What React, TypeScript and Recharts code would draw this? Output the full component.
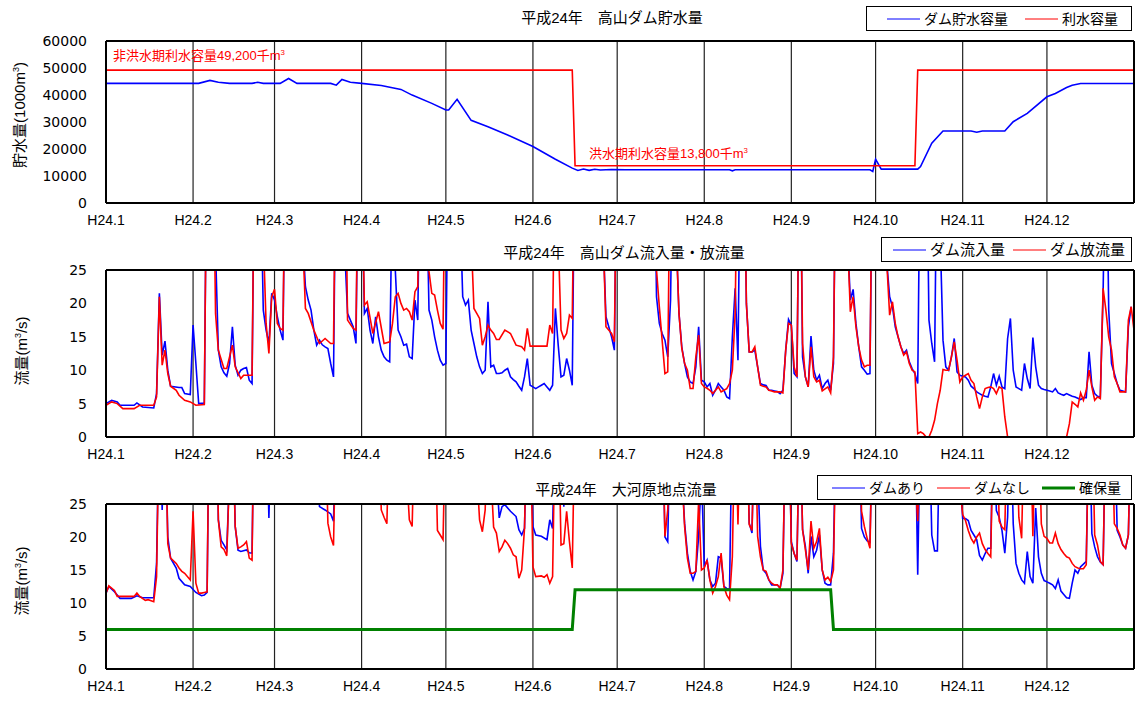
import React from "react"
import { CartesianGrid, Legend, Line, LineChart, ReferenceLine, XAxis, YAxis } from "recharts"

const FONT = "'Liberation Sans', 'Noto Sans CJK JP', sans-serif"

// day-of-year (2012) where each month starts, and the axis labels
const MONTH_STARTS = [0, 31, 60, 91, 121, 152, 182, 213, 244, 274, 305, 335]
const MONTH_LABELS = ["H24.1", "H24.2", "H24.3", "H24.4", "H24.5", "H24.6", "H24.7", "H24.8", "H24.9", "H24.10", "H24.11", "H24.12"]
const STORAGE_TICKS = [0, 10000, 20000, 30000, 40000, 50000, 60000]
const FLOW_TICKS = [0, 5, 10, 15, 20, 25]

// [day, value]; values above 25 run off the top of the panel
const STORAGE: [number, number][] = [
  [0, 44300], [33, 44300], [37, 45400], [40, 44700], [44, 44300], [52, 44300], [54, 44700], [56, 44300],
  [62, 44300], [65, 46100], [68, 44300], [80, 44300], [82, 43650], [84, 45750], [87, 44700], [91, 44300],
  [98, 43500], [105, 42070], [109, 39960], [116, 36900], [121, 34430], [122, 34430], [125, 38380],
  [130, 30620], [136, 28270], [143, 25200], [152, 20900], [160, 16230], [166, 12920], [168, 12030],
  [170, 12600], [172, 12100], [174, 12500], [176, 12200], [180, 12400], [185, 12300], [222, 12300],
  [223, 11900], [224, 12300], [272, 12300], [273, 11660], [274, 16230], [276, 12550], [289, 12550],
  [290, 13500], [294, 22140], [298, 26680], [308, 26680], [310, 26200], [312, 26680], [320, 26680],
  [323, 30110], [328, 33200], [335, 39330], [338, 40590], [342, 42800], [344, 43650], [347, 44280], [366, 44280],
]
const CAPACITY: [number, number][] = [[0, 49200], [166, 49200], [167, 13800], [288, 13800], [289, 49200], [366, 49200]]

const INFLOW: [number, number][] = [
  [0, 5.0], [2, 5.5], [4, 5.25], [5, 4.75], [10, 4.75], [11, 5.1], [13, 4.5], [17, 4.35], [18, 6.5], [19, 21.5],
  [20, 12.25], [21, 14.35], [22, 10], [23, 7.6], [26, 7.4], [27, 7.4], [28, 6.5], [30, 6.35], [31, 16.75], [32, 11],
  [33, 5], [35, 5.1], [36, 50], [38, 50], [39, 28], [40, 13], [41, 10.5], [42, 9.6], [43, 9.1], [44, 11], [45, 16.5],
  [46, 10.75], [47, 9.25], [48, 10], [49, 10.25], [50, 10.4], [51, 8.5], [52, 8], [53, 50], [54, 50], [55, 40],
  [56, 19], [57, 16], [58, 14], [59, 21.5], [60, 20.5], [61, 18], [62, 16], [63, 14.5], [64, 50], [69, 50], [70, 30],
  [71, 22.5], [72, 20.5], [73, 19], [74, 16], [75, 13.75], [76, 14.5], [77, 13.8], [78, 13.5], [79, 13.25], [80, 11],
  [81, 9], [82, 50], [84, 50], [85, 28], [86, 18.5], [87, 17.5], [88, 16.5], [89, 14], [90, 50], [91, 40], [92, 18.5],
  [93, 19.25], [94, 16], [95, 14], [96, 18], [97, 15], [98, 13], [99, 12], [100, 11.5], [101, 11.25], [102, 40],
  [103, 25], [104, 16], [105, 15], [106, 13.75], [107, 13.9], [108, 12], [109, 11.75], [110, 20.5], [111, 17.5],
  [112, 50], [114, 40], [115, 19], [116, 17.5], [117, 15], [118, 13], [119, 11.5], [120, 10.75], [121, 11], [122, 50],
  [126, 35], [127, 21], [128, 19.75], [129, 20.5], [130, 16], [131, 14], [132, 12], [133, 10.5], [134, 9.5], [135, 10],
  [136, 20.25], [137, 10.5], [138, 10.75], [139, 9.5], [140, 9.5], [141, 9.6], [142, 10], [143, 10.25], [144, 9],
  [145, 8.6], [146, 8.25], [147, 7.6], [148, 7], [149, 9], [150, 11.75], [151, 7.75], [152, 7.5], [153, 7.25],
  [154, 7.5], [155, 7.75], [156, 8], [157, 7.5], [158, 7], [159, 7.75], [160, 19.25], [161, 13.75], [162, 9],
  [163, 9.25], [164, 11.75], [165, 10], [166, 7.75], [167, 50], [176, 50], [177, 30], [178, 18], [179, 16.5],
  [180, 15], [181, 13], [182, 50], [195, 50], [196, 21], [197, 17], [198, 15.5], [199, 14.5], [200, 12], [201, 20.5],
  [202, 50], [203, 30], [204, 18.5], [205, 13.5], [206, 11], [207, 9], [208, 8.25], [209, 8], [210, 10.5], [211, 16.5],
  [212, 8.5], [213, 8.25], [214, 7.5], [215, 8], [216, 6.25], [217, 7], [218, 8], [219, 7.5], [220, 7], [221, 6],
  [222, 5.75], [223, 15], [224, 22.25], [225, 11.5], [226, 50], [227, 50], [228, 20], [229, 12.75], [230, 12.75],
  [231, 13], [232, 10.5], [233, 8], [234, 7.8], [235, 7.7], [236, 7], [237, 7], [238, 6.9], [239, 6.8], [240, 6.5],
  [241, 7], [242, 13], [243, 17.6], [244, 16.75], [245, 9.5], [246, 9], [247, 50], [248, 12], [249, 9], [250, 7.5],
  [251, 15.1], [252, 10], [253, 8.5], [254, 9.25], [255, 7.25], [256, 8], [257, 8.5], [258, 7], [259, 11], [260, 50],
  [263, 50], [264, 30], [265, 20.5], [266, 22.1], [267, 17], [268, 13.5], [269, 10.5], [270, 10], [271, 9.4],
  [272, 9.5], [273, 50], [277, 50], [278, 26], [279, 21], [280, 19.5], [281, 16.5], [282, 15], [283, 13.5],
  [284, 12.5], [285, 13], [286, 11.25], [287, 10.25], [288, 9.5], [289, 8], [290, 50], [292, 50], [293, 17.5],
  [294, 14], [295, 11.25], [296, 50], [297, 30], [298, 14.5], [299, 10.5], [300, 10], [301, 12], [302, 14.75],
  [303, 9.75], [304, 9.25], [305, 9.1], [306, 9], [307, 8.5], [308, 7.6], [309, 7.25], [310, 6.75], [311, 6.5],
  [312, 6.25], [313, 6.1], [314, 6], [315, 7.5], [316, 9.5], [317, 7.75], [318, 9.1], [319, 7.5], [320, 7.25],
  [321, 14.75], [322, 17.75], [323, 10], [324, 7.5], [325, 7.25], [326, 7], [327, 11], [328, 8.75], [329, 7.25],
  [330, 14.9], [331, 10.5], [332, 7.75], [333, 7.25], [334, 7.1], [335, 7], [336, 6.9], [337, 6.75], [338, 7.25],
  [339, 6.6], [340, 6.4], [341, 6.25], [342, 6.5], [343, 6.3], [344, 6.1], [345, 6], [346, 5.8], [347, 5.6],
  [348, 5.9], [349, 5.9], [350, 12.75], [351, 7.75], [352, 6.5], [353, 6.1], [354, 6], [355, 21.5], [356, 50],
  [357, 19], [358, 11], [359, 9.5], [360, 8], [361, 7], [362, 6.9], [363, 6.75], [364, 16.5], [365, 19.5],
]

const OUTFLOW: [number, number][] = [
  [0, 4.75], [2, 5.25], [4, 5], [6, 4.25], [10, 4.25], [12, 4.75], [17, 4.75], [18, 6], [19, 21], [20, 10.75],
  [21, 13], [22, 9.5], [23, 7.6], [25, 7], [26, 6.25], [28, 5.5], [30, 5.25], [32, 4.75], [35, 4.85], [36, 50],
  [38, 50], [39, 18.5], [40, 13], [42, 10.25], [43, 10.25], [45, 13.75], [46, 10.5], [48, 8.75], [49, 9.25],
  [52, 9.25], [53, 50], [55, 50], [56, 30], [57, 17], [58, 12.5], [59, 21], [60, 22.1], [61, 17], [62, 16.25],
  [63, 16], [64, 50], [69, 50], [70, 30], [71, 19.25], [72, 18.5], [74, 16], [76, 14], [78, 14.75], [80, 14],
  [81, 14], [82, 50], [85, 50], [86, 17.5], [88, 16.25], [89, 16], [90, 50], [91, 40], [92, 19.75], [93, 20.25],
  [95, 15.5], [97, 18.75], [99, 14], [101, 14.25], [102, 17], [103, 21], [104, 21.5], [105, 20], [106, 19],
  [107, 19.25], [108, 18.75], [109, 17.5], [110, 21.75], [111, 22.5], [112, 50], [114, 30], [115, 24.75],
  [116, 21.5], [117, 21.25], [118, 19], [119, 17], [120, 16.15], [121, 50], [129, 50], [130, 30], [131, 19.25],
  [132, 18.5], [133, 17.75], [134, 13.75], [135, 15], [136, 16.75], [137, 16], [138, 15.5], [139, 14.6], [140, 14.6],
  [142, 16], [144, 15.5], [146, 13.75], [148, 13.5], [149, 13], [150, 16.25], [151, 13.6], [157, 13.6], [158, 16.75],
  [159, 15.5], [160, 50], [161, 30], [162, 16], [163, 14.75], [164, 15.5], [165, 18.25], [166, 17.75], [167, 50],
  [176, 50], [177, 30], [178, 16.5], [180, 15.5], [181, 14.25], [182, 50], [195, 50], [196, 25], [197, 19.5],
  [198, 14.5], [199, 9.5], [200, 9.75], [201, 50], [202, 50], [203, 30], [204, 18.5], [205, 13.25], [206, 11],
  [207, 10], [208, 7.25], [209, 7.25], [210, 12], [211, 15.25], [212, 8], [213, 7.5], [214, 7.3], [215, 7],
  [216, 6.5], [217, 7], [218, 7.5], [219, 6.75], [220, 7], [221, 7.25], [222, 8], [223, 10], [224, 18.5], [225, 50],
  [227, 50], [228, 20], [229, 12.75], [230, 12.75], [231, 13.5], [232, 10.5], [233, 7.75], [234, 7.6], [235, 7.5],
  [236, 7], [237, 6.9], [238, 6.75], [240, 6.75], [241, 6.6], [242, 13], [243, 17], [244, 16.75], [245, 10.5],
  [246, 9], [247, 50], [248, 14], [249, 9], [250, 7.5], [251, 13.5], [252, 9], [253, 8.25], [254, 8.5], [255, 6.9],
  [256, 7.2], [257, 7.5], [258, 6.6], [259, 12], [260, 50], [263, 50], [264, 30], [265, 18.75], [266, 21],
  [267, 16.5], [268, 13.5], [269, 11.5], [270, 10.5], [271, 10.75], [272, 10.75], [273, 50], [277, 50], [278, 26],
  [279, 18.25], [280, 20.25], [281, 17], [282, 15], [283, 13.5], [284, 12.25], [285, 12.75], [286, 11], [287, 10],
  [288, 9.75], [289, 0.5], [290, 0.75], [291, 0.5], [292, 0], [293, 0], [294, 1], [295, 2.5], [296, 5], [297, 7],
  [298, 10.1], [299, 10], [300, 10], [301, 12], [302, 14.25], [303, 11.5], [304, 8.25], [305, 9], [306, 9.25],
  [307, 9.5], [308, 8.5], [309, 8], [310, 6], [311, 4.25], [312, 6], [313, 7.25], [314, 7.4], [315, 7.5],
  [316, 7.25], [317, 6.5], [318, 7.5], [319, 7.25], [320, 3], [321, 0], [342, 0], [343, 2], [344, 5.25], [345, 4.9],
  [346, 4.5], [347, 6.6], [348, 5.5], [349, 7], [350, 10], [351, 7.5], [352, 5.5], [353, 6], [354, 5.75],
  [355, 22.25], [356, 19], [357, 15], [358, 13], [359, 9], [360, 8], [361, 6.75], [363, 6.75], [364, 17.5],
  [365, 19.5], [366, 16],
]

const WITH_DAM: [number, number][] = [
  [0, 11.5], [1, 12.5], [3, 11.7], [5, 10.7], [9, 10.7], [11, 11.1], [13, 10.8], [17, 10.8], [18, 16], [19, 40],
  [20, 24.1], [21, 40], [22, 20], [23, 16.8], [25, 15.3], [26, 13.75], [28, 12.75], [30, 12.5], [32, 11.6],
  [34, 11.1], [35, 11.2], [36, 11.6], [37, 50], [39, 50], [40, 22.6], [41, 19.5], [42, 18.8], [43, 18.05], [44, 30],
  [45, 40], [46, 21.6], [47, 18], [48, 17.8], [50, 18.05], [51, 17.6], [52, 17.55], [53, 50], [57, 40], [58, 22.9],
  [59, 40], [75, 40], [76, 24.6], [78, 24.1], [80, 23.5], [81, 22.4], [82, 40], [98, 40], [99, 24.8], [100, 40],
  [119, 40], [120, 25], [121, 40], [139, 30], [140, 22.9], [141, 24.6], [142, 24.9], [144, 23.9], [146, 23.1],
  [147, 21.1], [148, 20.3], [149, 21.3], [150, 40], [151, 40], [152, 21.6], [153, 20.3], [155, 20.1], [157, 19.6],
  [158, 22.6], [159, 21.3], [160, 40], [162, 40], [163, 24.6], [164, 40], [198, 40], [199, 20], [200, 19.3],
  [201, 40], [205, 30], [206, 22.1], [207, 17.55], [208, 14.8], [209, 13.5], [210, 14.8], [211, 20.1], [212, 30],
  [213, 15.5], [214, 16.5], [215, 13.5], [216, 12.5], [217, 13], [218, 17], [219, 16.8], [220, 12.5], [221, 12.2],
  [222, 12], [223, 40], [228, 40], [229, 22.1], [230, 20.6], [231, 40], [232, 30], [233, 18.6], [234, 15],
  [235, 14.5], [236, 13.5], [237, 12.75], [239, 12.75], [240, 12.25], [241, 14.5], [242, 40], [243, 40],
  [244, 19.3], [245, 17.5], [246, 16.3], [247, 40], [248, 21.1], [249, 18.6], [250, 14.5], [251, 20.1], [252, 17],
  [253, 18], [254, 20.3], [255, 15], [256, 13], [257, 12.75], [258, 12.75], [259, 17.55], [260, 40], [268, 40],
  [269, 21.3], [270, 20], [271, 19.4], [272, 19.2], [273, 40], [288, 40], [289, 14.3], [290, 40], [293, 40],
  [294, 20.3], [295, 17.9], [296, 17.9], [297, 40], [300, 24.9], [301, 40], [304, 30], [305, 22.8], [306, 22.8],
  [307, 22.5], [308, 21], [309, 20.3], [310, 19.6], [311, 17.2], [312, 16.5], [313, 17.5], [314, 18.3], [315, 18.3],
  [316, 40], [317, 24], [318, 23], [319, 21], [320, 17.55], [321, 23], [322, 40], [323, 22], [324, 16], [325, 14.5],
  [326, 13.5], [327, 13], [328, 17.8], [329, 14], [330, 13], [331, 24.4], [332, 17], [333, 14.5], [334, 13.4],
  [335, 13.2], [336, 13], [337, 12.75], [338, 12.2], [339, 13.5], [340, 11.8], [341, 11.3], [342, 10.8],
  [343, 10.7], [344, 13], [345, 15], [346, 14.5], [347, 15.5], [348, 15.9], [349, 16.3], [350, 40], [351, 20.5],
  [352, 18.5], [353, 17], [354, 16.2], [355, 15.8], [356, 40], [359, 40], [360, 21], [361, 20], [362, 18.8],
  [363, 18.3], [364, 20.3], [365, 40],
]

const WITHOUT_DAM: [number, number][] = [
  [0, 11.5], [1, 12.6], [3, 11.9], [4, 11], [10, 11], [11, 11.5], [12, 11], [14, 10.4], [15, 10.5], [17, 10.2],
  [18, 14], [19, 40], [21, 40], [22, 19], [23, 16.8], [25, 16], [26, 15.3], [27, 14.8], [28, 14.5], [30, 13.5],
  [31, 23.9], [32, 13], [33, 11.5], [34, 11.5], [35, 11.6], [36, 11.7], [37, 50], [39, 50], [40, 22.6], [41, 18.5],
  [42, 18.1], [43, 17.15], [44, 30], [45, 40], [46, 21.6], [47, 18.3], [48, 18.5], [49, 18.8], [50, 19.3],
  [51, 16.8], [52, 16.5], [53, 50], [78, 40], [79, 22.1], [80, 20], [81, 18.7], [82, 40], [97, 40], [98, 24.1],
  [99, 23], [100, 22], [101, 40], [107, 30], [108, 22.6], [109, 21.6], [110, 40], [117, 40], [118, 21], [119, 20.3],
  [120, 19.6], [121, 40], [132, 30], [133, 22.6], [134, 20.8], [135, 24.1], [136, 40], [137, 30], [138, 21.5],
  [139, 20.6], [140, 17.8], [141, 18.5], [142, 19.5], [143, 19], [144, 18.3], [145, 17.3], [146, 17], [147, 13.75],
  [148, 15], [149, 21.3], [150, 40], [151, 40], [152, 15.5], [153, 14], [155, 14.1], [156, 13.9], [157, 14.3],
  [158, 13], [159, 14], [160, 40], [161, 40], [162, 18.8], [163, 19], [164, 23.9], [165, 19.3], [166, 15.3],
  [167, 40], [198, 40], [199, 20.1], [200, 24.1], [201, 40], [205, 30], [206, 21.6], [207, 16.8], [208, 14.5],
  [209, 14.5], [210, 14.8], [211, 25.5], [212, 15], [213, 15.3], [214, 16.5], [215, 13.5], [216, 11.5], [217, 12.5],
  [218, 14], [219, 17.55], [220, 12.5], [221, 11.2], [222, 10.5], [223, 17], [224, 40], [225, 21.9], [226, 40],
  [228, 40], [229, 21.9], [230, 21], [231, 40], [232, 20.1], [233, 17], [234, 15], [235, 14.8], [236, 13.5],
  [237, 13], [238, 12.75], [239, 12.75], [240, 12.25], [241, 15], [242, 40], [243, 40], [244, 19], [245, 17.5],
  [246, 16.5], [247, 40], [248, 21.1], [249, 18.1], [250, 15], [251, 22.4], [252, 18.3], [253, 19.3], [254, 21.3],
  [255, 15], [256, 13.5], [257, 13.9], [258, 13.25], [259, 15], [260, 40], [268, 40], [269, 23.9], [270, 21.6],
  [271, 19.8], [272, 18.3], [273, 40], [288, 30], [289, 22.4], [290, 40], [304, 28], [305, 23.4], [306, 22.5],
  [307, 21], [308, 19.8], [309, 19.1], [310, 20], [311, 20.6], [312, 19], [313, 18.1], [314, 17.5], [315, 17],
  [316, 40], [317, 40], [318, 22.4], [319, 21.5], [320, 21.1], [321, 40], [324, 40], [325, 23], [326, 19.8],
  [327, 40], [329, 40], [330, 20.1], [331, 40], [332, 40], [333, 22], [334, 20.1], [335, 19.8], [336, 19.1],
  [337, 19.1], [338, 20.6], [339, 19], [340, 18.1], [341, 17.5], [342, 17], [343, 16.8], [344, 16], [345, 15.5],
  [346, 15.3], [347, 15.2], [348, 15.2], [349, 15.8], [350, 40], [351, 40], [352, 20.3], [353, 18.8], [354, 16.3],
  [355, 15.8], [356, 40], [358, 40], [359, 22], [360, 21.3], [361, 20.3], [362, 18.8], [363, 18.3], [364, 20.3], [365, 40],
]

const SECURED: [number, number][] = [[0, 6], [166, 6], [167, 12], [258, 12], [259, 6], [366, 6]]

const rows = (pts: [number, number][]) => pts.map(([d, v]) => ({ d, v }))

const tickLabel = (v: number) => MONTH_LABELS[MONTH_STARTS.indexOf(v)] ?? ""

function BoxLegend(props: any) {
  const { payload = [], order = [], fontSize = 14, gap = 12, padLeft = 12 } = props
  // keep the series order instead of the library's alphabetical sort
  const items = [...payload].sort((a: any, b: any) => order.indexOf(a.value) - order.indexOf(b.value))
  return (
    <div
      style={{
        height: 25, boxSizing: "border-box", border: "1px solid #000", background: "#fff",
        display: "flex", alignItems: "center", paddingLeft: padLeft, fontFamily: FONT, fontSize, color: "#000",
      }}
    >
      {items.map((p: any, i: number) => (
        <div key={i} style={{ display: "flex", alignItems: "center", marginLeft: i ? gap : 0, whiteSpace: "nowrap" }}>
          <svg width={33} height={6}>
            <line x1={0} y1={3} x2={33} y2={3} stroke={p.color} strokeWidth={p.payload?.strokeWidth === 3 ? 3 : 1} />
          </svg>
          <span style={{ marginLeft: 4, lineHeight: 1 }}>{p.value}</span>
        </div>
      ))}
    </div>
  )
}

function Panel(props: {
  top: number; height: number; marginTop: number; yMax: number; yTicks: number[]
  legend: { left: number; top: number; width: number; fontSize: number; gap: number; padLeft: number; order: string[] }
  children: React.ReactNode
}) {
  const { top, height, marginTop, yMax, yTicks, legend, children } = props
  return (
    <div style={{ position: "absolute", left: 0, top }}>
      <LineChart width={1137} height={height} margin={{ top: marginTop, right: 3, left: 0, bottom: 0 }}>
        <CartesianGrid horizontal={false} stroke="#222" strokeWidth={1.2} />
        <XAxis
          dataKey="d" type="number" domain={[0, 366]} ticks={MONTH_STARTS} interval={0} allowDataOverflow
          tickFormatter={tickLabel} tickLine={false} axisLine={{ stroke: "#000", strokeWidth: 2 }} height={28}
          tickMargin={6} tick={{ fontSize: 14, fill: "#000", fontFamily: "'Liberation Sans'" }}
        />
        <YAxis
          type="number" domain={[0, yMax]} ticks={yTicks} interval={0} allowDataOverflow width={106}
          tickLine={false} axisLine={{ stroke: "#000", strokeWidth: 2 }} tickMargin={13}
          tick={{ fontSize: 14, fill: "#000", fontFamily: "'DejaVu Sans'" }}
        />
        {children}
        <ReferenceLine y={yMax} stroke="#000" strokeWidth={2} />
        <ReferenceLine x={366} stroke="#000" strokeWidth={2} />
        <Legend
          layout="horizontal" verticalAlign="middle" align="center"
          wrapperStyle={{ left: legend.left, top: legend.top, width: legend.width, height: 25 }}
          content={(p: any) => (
            <BoxLegend {...p} order={legend.order} fontSize={legend.fontSize} gap={legend.gap} padLeft={legend.padLeft} />
          )}
        />
      </LineChart>
    </div>
  )
}

const lineProps = { type: "linear" as const, dataKey: "v", dot: false, isAnimationActive: false, activeDot: false }

const titleStyle = (cx: number, cy: number): React.CSSProperties => ({
  position: "absolute", left: cx, top: cy - 8, transform: "translateX(-50%)", fontSize: 15, lineHeight: "16px",
  whiteSpace: "nowrap", color: "#000",
})

const yTitleStyle = (cx: number, cy: number): React.CSSProperties => ({
  position: "absolute", left: cx, top: cy, transform: "translate(-50%, -50%) rotate(-90deg)", fontSize: 15,
  lineHeight: "16px", whiteSpace: "nowrap", color: "#000",
})

const sup: React.CSSProperties = { fontSize: "0.6em", verticalAlign: "super", lineHeight: 0 }

export default function App() {
  return (
    <div style={{ position: "absolute", left: 0, top: 0, width: 1137, height: 701, background: "#fff", fontFamily: FONT }}>
      <Panel top={0} height={231} marginTop={41} yMax={60000} yTicks={STORAGE_TICKS}
        legend={{ left: 866, top: 6, width: 266, fontSize: 14, gap: 17, padLeft: 20, order: ["ダム貯水容量", "利水容量"] }}>
        <Line {...lineProps} data={rows(STORAGE)} name="ダム貯水容量" stroke="#0000ff" strokeWidth={1.6} />
        <Line {...lineProps} data={rows(CAPACITY)} name="利水容量" stroke="#ff0000" strokeWidth={1.6} />
      </Panel>
      <Panel top={230} height={235} marginTop={40} yMax={25} yTicks={FLOW_TICKS}
        legend={{ left: 881, top: 7, width: 251, fontSize: 15, gap: 8, padLeft: 11, order: ["ダム流入量", "ダム放流量"] }}>
        <Line {...lineProps} data={rows(INFLOW)} name="ダム流入量" stroke="#0000ff" strokeWidth={1.6} />
        <Line {...lineProps} data={rows(OUTFLOW)} name="ダム放流量" stroke="#ff0000" strokeWidth={1.6} />
      </Panel>
      <Panel top={470} height={227} marginTop={34} yMax={25} yTicks={FLOW_TICKS}
        legend={{ left: 817, top: 5, width: 315, fontSize: 14, gap: 12, padLeft: 14, order: ["ダムあり", "ダムなし", "確保量"] }}>
        <Line {...lineProps} data={rows(WITH_DAM)} name="ダムあり" stroke="#0000ff" strokeWidth={1.6} />
        <Line {...lineProps} data={rows(WITHOUT_DAM)} name="ダムなし" stroke="#ff0000" strokeWidth={1.6} />
        <Line {...lineProps} data={rows(SECURED)} name="確保量" stroke="#008000" strokeWidth={3} />
      </Panel>

      <div style={titleStyle(612, 18)}>平成24年　高山ダム貯水量</div>
      <div style={titleStyle(624, 253)}>平成24年　高山ダム流入量・放流量</div>
      <div style={titleStyle(626, 490)}>平成24年　大河原地点流量</div>

      <div style={yTitleStyle(20, 115)}>貯水量(1000m<span style={sup}>3</span>)</div>
      <div style={yTitleStyle(22, 351)}>流量(m<span style={sup}>3</span>/s)</div>
      <div style={yTitleStyle(22, 581)}>流量(m<span style={sup}>3</span>/s)</div>

      <div style={{ position: "absolute", left: 113, top: 49, fontSize: 13, lineHeight: "14px", color: "#ff0000", whiteSpace: "nowrap" }}>
        非洪水期利水容量49,200千m<span style={sup}>3</span>
      </div>
      <div style={{ position: "absolute", left: 589, top: 147, fontSize: 13, lineHeight: "14px", color: "#ff0000", whiteSpace: "nowrap" }}>
        洪水期利水容量13,800千m<span style={sup}>3</span>
      </div>
    </div>
  )
}
